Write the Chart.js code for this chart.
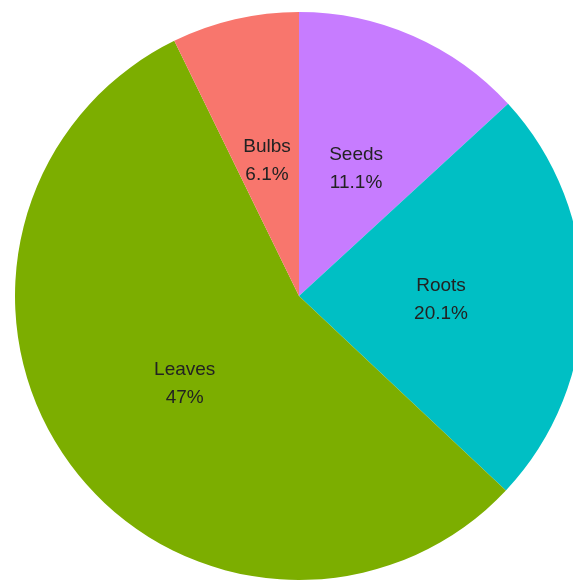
<!DOCTYPE html>
<html>
<head>
    <title>Pie chart</title>
    <script src="https://cdn.jsdelivr.net/npm/chart.js"></script>
    <style>
        html, body {
            margin: 0;
            padding: 0;
            background: #fff;
            overflow: hidden;
            width: 573px;
            height: 581px;
        }
        #pieChart {
            position: absolute;
            left: 15px;
            top: 12px;
        }
    </style>
</head>
<body>
    <canvas id="pieChart" width="568" height="568"></canvas>

    <script>
        // clockwise from 12 o'clock
        const categories = ['Seeds', 'Roots', 'Leaves', 'Bulbs'];
        const values = [11.1, 20.1, 47, 6.1];
        const valueLabels = ['11.1%', '20.1%', '47%', '6.1%'];
        const sliceColors = ['#C77CFF', '#00BFC4', '#7CAE00', '#F8766D'];

        // names + percentages in the middle of every slice
        const sliceLabels = {
            id: 'sliceLabels',
            afterDatasetsDraw(chart) {
                const ctx = chart.ctx;
                const meta = chart.getDatasetMeta(0);
                ctx.save();
                ctx.font = '19px "Liberation Sans", Arial, sans-serif';
                ctx.fillStyle = '#222';
                ctx.textAlign = 'center';
                ctx.textBaseline = 'middle';
                meta.data.forEach((arc, i) => {
                    const p = arc.getCenterPoint();
                    ctx.fillText(categories[i], p.x, p.y - 11);
                    ctx.fillText(valueLabels[i], p.x, p.y + 17);
                });
                ctx.restore();
            }
        };

        const ctx = document.getElementById('pieChart').getContext('2d');
        const chart = new Chart(ctx, {
            type: 'pie',
            plugins: [sliceLabels],
            data: {
                labels: categories,
                datasets: [{
                    data: values,
                    backgroundColor: sliceColors,
                    borderWidth: 0,
                    hoverOffset: 0
                }]
            },
            options: {
                responsive: false,
                animation: false,
                layout: { padding: 0 },
                plugins: {
                    legend: { display: false },
                    tooltip: { enabled: false }
                }
            }
        });
    </script>
</body>
</html>
